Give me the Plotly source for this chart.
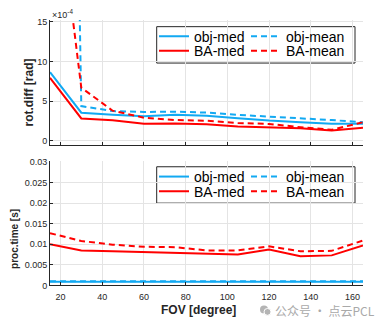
import plotly.graph_objects as go

# Field of view sweep (degrees)
fov = [15, 30, 45, 60, 75, 90, 105, 120, 135, 150, 165]

# Rotation difference, in units of 1e-4 rad
rot_obj_med = [8.65, 3.55, 3.30, 3.10, 3.30, 3.15, 2.85, 2.55, 2.35, 2.15, 2.15]
rot_obj_mean = [230.0, 4.38, 3.75, 3.64, 3.68, 3.56, 3.27, 3.07, 2.83, 2.62, 2.34]
rot_ba_med = [7.95, 2.82, 2.60, 2.15, 2.20, 2.10, 1.80, 1.72, 1.60, 1.31, 1.64]
rot_ba_mean = [38.6, 6.70, 3.80, 2.92, 2.62, 2.54, 2.25, 2.13, 1.72, 1.39, 2.34]

# Processing time (s)
t_obj_med = [0.0009, 0.0009, 0.0009, 0.0009, 0.0009, 0.0009, 0.0009, 0.0009, 0.0009, 0.0009, 0.0009]
t_obj_mean = [0.0010, 0.0010, 0.0010, 0.0010, 0.0010, 0.0010, 0.0010, 0.0010, 0.0010, 0.0010, 0.0010]
t_ba_med = [0.0100, 0.0085, 0.0083, 0.0081, 0.0079, 0.0076, 0.0075, 0.0087, 0.0071, 0.0073, 0.0097]
t_ba_mean = [0.0127, 0.0108, 0.0099, 0.0094, 0.0093, 0.0085, 0.0085, 0.0095, 0.0083, 0.0084, 0.0109]

series_names = ["obj-med", "obj-mean", "BA-med", "BA-mean"]
x_ticks = [20, 40, 60, 80, 100, 120, 140, 160]
rot_ticks = [0, 5, 10, 15]
time_ticks = [0, 0.005, 0.01, 0.015, 0.02, 0.025, 0.03]
time_tick_text = ["0", "0.005", "0.01", "0.015", "0.02", "0.025", "0.03"]

W, H = 377, 331
BLUE = "#12A9F2"
RED = "#FF0000"
AX = "#262626"
GRID = "#e4e4e4"
FONT = "Liberation Sans, Arial, sans-serif"
DASH = "6px,4px"
X_RANGE = [15, 165]


def fx(p):
    return p / W


def fy(p):
    return 1 - p / H


fig = go.Figure()

styles = [(BLUE, "solid"), (BLUE, DASH), (RED, "solid"), (RED, DASH)]
rot_series = [rot_obj_med, rot_obj_mean, rot_ba_med, rot_ba_mean]
time_series = [t_obj_med, t_obj_mean, t_ba_med, t_ba_mean]

# one legend entry per series, laid out as a 2x2 grid inside each frame
cell_x = [154, 246, 154, 246]
cell_dy = [0, 0, 1, 1]
panels = [
    ("x", "y", rot_series, 33.5),
    ("x2", "y2", time_series, 177.8),
]

legend_layouts = {}
k = 0
for xa, ya, series, row0 in panels:
    for i, (name, (color, dash), ys) in enumerate(zip(series_names, styles, series)):
        k += 1
        lg = "legend" if k == 1 else f"legend{k}"
        fig.add_trace(go.Scatter(
            x=fov, y=ys, name=name, mode="lines",
            line=dict(color=color, width=2, dash=dash),
            xaxis=xa, yaxis=ya, legend=lg, hoverinfo="skip",
        ))
        legend_layouts[lg] = dict(
            x=fx(cell_x[i]), y=fy(row0 + 15 * cell_dy[i]),
            xanchor="left", yanchor="middle", orientation="v",
            bgcolor="rgba(0,0,0,0)", borderwidth=0,
            font=dict(family=FONT, size=14, color="black"),
            itemwidth=30,
        )

axis_common = dict(
    showline=True, linecolor=AX, linewidth=1,
    ticks="inside", ticklen=3, tickcolor=AX, tickwidth=1,
    tickfont=dict(family=FONT, size=9, color=AX),
    showgrid=True, gridcolor=GRID, gridwidth=1,
    zeroline=False, mirror=False, fixedrange=True,
)

x_dom = [fx(50), fx(363)]

fig.update_layout(
    width=W, height=H,
    margin=dict(l=0, r=0, t=0, b=0),
    paper_bgcolor="white", plot_bgcolor="rgba(0,0,0,0)",
    showlegend=True,
    xaxis=dict(domain=x_dom, anchor="y", range=X_RANGE, tickvals=x_ticks,
               showticklabels=False, **axis_common),
    yaxis=dict(domain=[fy(144.5), fy(16.5)], anchor="x", range=[-0.47, 15.22],
               tickvals=rot_ticks, **axis_common),
    xaxis2=dict(domain=x_dom, anchor="y2", range=X_RANGE, tickvals=x_ticks,
                ticklabelstandoff=3, **axis_common),
    yaxis2=dict(domain=[fy(289.3), fy(161.5)], anchor="x2", range=[0, 0.0302],
                tickvals=time_ticks, ticktext=time_tick_text, **axis_common),
    # FOV tick labels printed under the upper panel (above the lower one)
    xaxis3=dict(overlaying="x2", anchor="y2", side="top", range=X_RANGE,
                tickvals=x_ticks, ticks="", showline=False, showgrid=False,
                zeroline=False, fixedrange=True, ticklabelstandoff=1,
                tickfont=dict(family=FONT, size=9, color=AX)),
    **legend_layouts,
)

# Legend frames
for top, bot in [(23.3, 60.7), (167.3, 204.7)]:
    fig.add_shape(type="rect", xref="paper", yref="paper",
                  x0=fx(156.7), x1=fx(355), y0=fy(bot), y1=fy(top),
                  line=dict(color=AX, width=1), fillcolor="white", layer="between")

# Axis titles and exponent
fig.add_annotation(text="rot.diff [rad]", xref="paper", yref="paper",
                   x=fx(29), y=fy(91), xanchor="center", yanchor="middle",
                   textangle=-90, showarrow=False,
                   font=dict(family=FONT, size=12, color=AX, weight="bold"))
fig.add_annotation(text="proc.time [s]", xref="paper", yref="paper",
                   x=fx(14.5), y=fy(242), xanchor="center", yanchor="middle",
                   textangle=-90, showarrow=False,
                   font=dict(family=FONT, size=10, color=AX, weight="bold"))
fig.add_annotation(text="FOV [degree]", xref="paper", yref="paper",
                   x=fx(198.7), y=fy(314.5), xanchor="center", yanchor="middle",
                   showarrow=False,
                   font=dict(family=FONT, size=12, color=AX, weight="bold"))
fig.add_annotation(text="×10<sup>-4</sup>", xref="paper", yref="paper",
                   x=fx(50), y=fy(10), xanchor="left", yanchor="middle", showarrow=False,
                   font=dict(family=FONT, size=9, color=AX))

# Publisher mark
fig.add_shape(type="circle", xref="paper", yref="paper",
              x0=fx(260), x1=fx(268), y0=fy(318), y1=fy(310),
              line=dict(width=0), fillcolor="#b4b4b4")
fig.add_shape(type="circle", xref="paper", yref="paper",
              x0=fx(264), x1=fx(271), y0=fy(320), y1=fy(313),
              line=dict(color="white", width=1), fillcolor="#b4b4b4")
fig.add_annotation(text="公众号 · 点云PCL", xref="paper", yref="paper",
                   x=fx(273), y=fy(315), xanchor="left", yanchor="middle", showarrow=False,
                   font=dict(family="Noto Sans CJK SC, sans-serif", size=12, color="#a9a9a9"))

fig.write_html("out.html")
